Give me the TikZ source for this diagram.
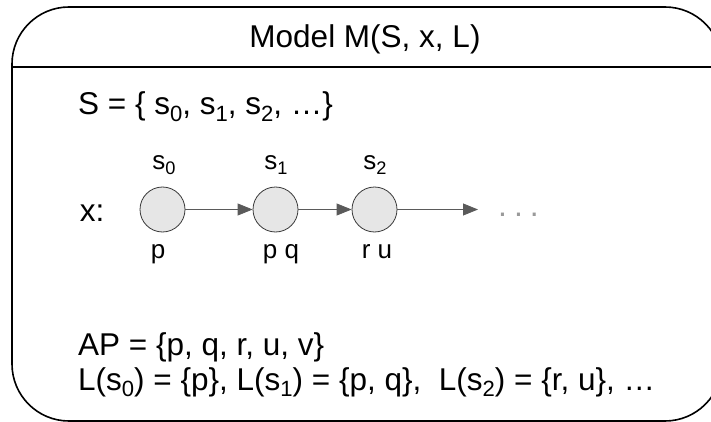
\documentclass[tikz,border=0pt]{standalone}
\usepackage{fontspec}
\usepackage{graphicx}
\setmainfont{Liberation Sans}
\usetikzlibrary{arrows.meta}
\definecolor{statefill}{HTML}{E6E6E6}
\definecolor{stateline}{HTML}{3A3A3A}
\definecolor{edgegray}{HTML}{5A5A5A}
\definecolor{dotgray}{HTML}{9A9A9A}
% lowered, reduced index (s_0, s_1, ...)
\newcommand{\idx}[1]{\raisebox{-0.2em}{\scalebox{0.7}{#1}}}
\tikzset{
  big/.style={font=\fontsize{31.5}{36}\selectfont, inner sep=0pt},
  body/.style={font=\fontsize{31.5}{36}\selectfont, inner sep=0pt, anchor=base west},
  small/.style={font=\fontsize{26}{30}\selectfont, inner sep=0pt},
  state/.style={circle, draw=stateline, line width=0.8pt, fill=statefill,
    minimum size=45pt, inner sep=0pt},
  edge/.style={draw=edgegray, line width=0.8pt,
    -{Triangle[length=15pt,width=12pt]}, color=edgegray},
  frame/.style={draw=black, line width=1.6pt},
}
\begin{document}
\begin{tikzpicture}[x=1pt,y=-1pt]
\useasboundingbox (0,0) rectangle (711,422);
\clip (0,0) rectangle (711,422);

% outer rounded frame and header divider
\draw[frame, rounded corners=57pt] (12,7) rectangle (722,421);
\draw[frame] (12,67) -- (722,67);

% header
\node[big, anchor=base] (title) at (365,48) {Model M(S, x, L)};

% set of states
\node[body] (states) at (78,115) {S = \{ s\idx{0}, s\idx{1}, s\idx{2}, …\}};

% path x
\node[big] (xlab) at (92,213) {x:};
\node[state] (c0) at (162.5,209.5) {};
\node[state] (c1) at (275.5,209.5) {};
\node[state] (c2) at (374.5,209.5) {};
\coordinate (cend) at (478,209.5);
\node[font=\fontsize{32}{36}\selectfont, inner sep=0pt, text=dotgray, anchor=base]
  (dots) at (518.5,216) {.\kern7pt.\kern7pt.};

\draw[edge] (c0) -- (c1);
\draw[edge] (c1) -- (c2);
\draw[edge] (c2) -- (cend);

% state names
\node[small, anchor=base] (n0) at (164,169) {s\idx{0}};
\node[small, anchor=base] (n1) at (276,169) {s\idx{1}};
\node[small, anchor=base] (n2) at (375,169) {s\idx{2}};

% labels
\node[small, anchor=base] (l0) at (158,258) {p};
\node[small, anchor=base] (l1) at (281,258) {p q};
\node[small, anchor=base] (l2) at (377,258) {r u};

% atomic propositions and labelling
\node[body] (ap) at (78,355) {AP = \{p, q, r, u, v\}};
\node[body] (lab) at (78,390) {L(s\idx{0}) = \{p\}, L(s\idx{1}) = \{p, q\},\ \ L(s\idx{2}) = \{r, u\}, …};
\end{tikzpicture}
\end{document}
